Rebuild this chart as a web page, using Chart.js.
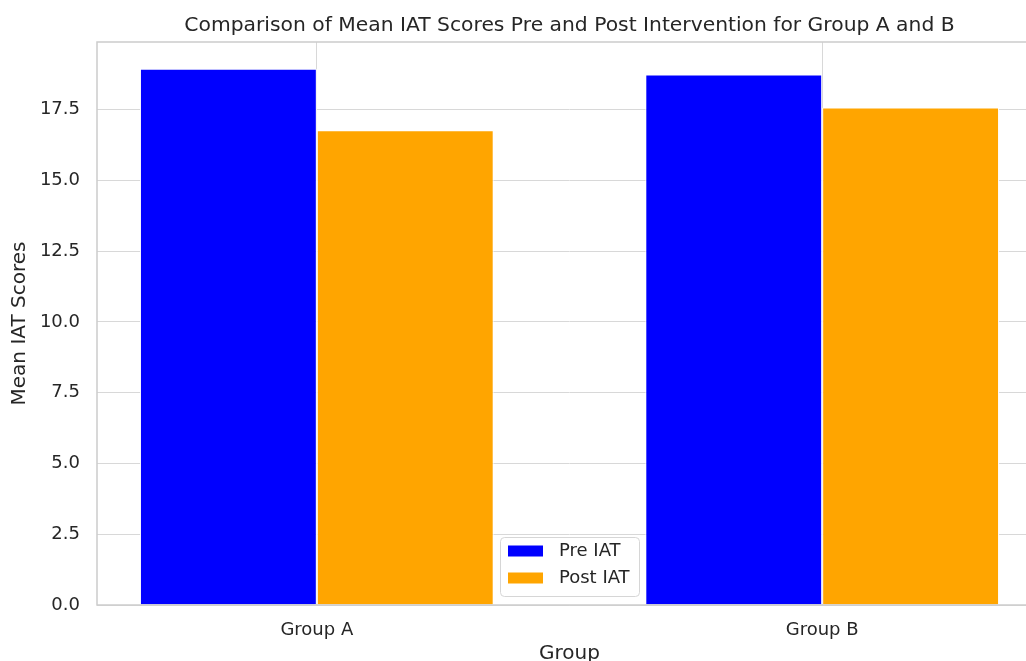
<!DOCTYPE html>
<html>
<head>
<meta charset="utf-8">
<script src="https://cdn.jsdelivr.net/npm/chart.js@4.4.1/dist/chart.umd.min.js"></script>
<style>
  html, body { margin: 0; padding: 0; background: #fff; overflow: hidden; }
  #wrap { width: 1026px; height: 661px; overflow: hidden; position: relative; }
  canvas { display: block; }
</style>
</head>
<body>
<div id="wrap"><canvas id="chart" width="1060" height="671"></canvas></div>
<script>
const categories = ["Group A", "Group B"];
const preIAT = [18.94, 18.74];
const postIAT = [16.77, 17.57];
const seriesNames = ["Pre IAT", "Post IAT"];
const yTicks = [0, 2.5, 5, 7.5, 10, 12.5, 15, 17.5];
const yTickLabels = ["0.0", "2.5", "5.0", "7.5", "10.0", "12.5", "15.0", "17.5"];

const titleText = "Comparison of Mean IAT Scores Pre and Post Intervention for Group A and B";
const textColor = "#262626";
const fontFamily = "'DejaVu Sans', sans-serif";

// same margins as matplotlib: 5% of the data span
const xMin = -0.35 - 0.085;
const xMax = 1.35 + 0.085;
const yMax = Math.max(...preIAT, ...postIAT) * 1.05;

const toPoints = (values) => values.map((v, i) => ({ x: i, y: v }));

const titlePlugin = {
  id: "plotTitle",
  afterDraw(chart) {
    const { ctx, chartArea } = chart;
    ctx.save();
    ctx.font = "20.3px " + fontFamily;
    ctx.fillStyle = textColor;
    ctx.textAlign = "center";
    ctx.textBaseline = "middle";
    ctx.fillText(titleText, (chartArea.left + chartArea.right) / 2, 26);
    ctx.restore();
  },
};

const spinePlugin = {
  id: "spines",
  afterDraw(chart) {
    const { ctx, chartArea } = chart;
    ctx.save();
    ctx.strokeStyle = "#cccccc";
    ctx.lineWidth = 1.5;
    ctx.strokeRect(chartArea.left, chartArea.top, chartArea.right - chartArea.left, chartArea.bottom - chartArea.top);
    ctx.restore();
  },
};

const legendPlugin = {
  id: "boxLegend",
  afterDraw(chart) {
    const { ctx, chartArea } = chart;
    const w = 139, h = 59;
    const x = (chartArea.left + chartArea.right) / 2 - w / 2;
    const y = chartArea.bottom - 9 - h;
    ctx.save();
    ctx.fillStyle = "rgba(255,255,255,0.8)";
    ctx.strokeStyle = "#d6d6d6";
    ctx.lineWidth = 1;
    ctx.beginPath();
    ctx.roundRect(x + 0.5, y + 0.5, w, h, 4);
    ctx.fill();
    ctx.stroke();
    ctx.font = "18px " + fontFamily;
    ctx.textBaseline = "middle";
    chart.data.datasets.forEach((ds, i) => {
      const cy = y + 14 + i * 27;
      ctx.fillStyle = ds.backgroundColor;
      ctx.fillRect(x + 8, cy - 5.5, 35, 11);
      ctx.fillStyle = textColor;
      ctx.fillText(ds.label, x + 59, cy);
    });
    ctx.restore();
  },
};

new Chart(document.getElementById("chart"), {
  type: "bar",
  data: {
    datasets: [
      {
        label: seriesNames[0],
        data: toPoints(preIAT),
        backgroundColor: "#0000ff",
        borderColor: "#ffffff",
        borderWidth: 1,
      },
      {
        label: seriesNames[1],
        data: toPoints(postIAT),
        backgroundColor: "#ffa500",
        borderColor: "#ffffff",
        borderWidth: 1,
      },
    ],
  },
  options: {
    responsive: false,
    animation: false,
    categoryPercentage: 0.7,
    barPercentage: 1.0,
    layout: { padding: { left: 0, right: 18, top: 42, bottom: 0 } },
    plugins: {
      legend: { display: false },
      title: { display: false },
      tooltip: { enabled: false },
    },
    scales: {
      x: {
        type: "linear",
        min: xMin,
        max: xMax,
        offset: false,
        afterBuildTicks: (scale) => {
          scale.ticks = categories.map((c, i) => ({ value: i }));
        },
        afterFit: (scale) => {
          scale.height = 66;
        },
        grid: { offset: false, color: "#d8d8d8", lineWidth: 1, drawTicks: false },
        border: { display: false },
        ticks: {
          padding: 15,
          color: textColor,
          font: { family: fontFamily, size: 18 },
          callback: (v) => categories[v],
        },
        title: {
          display: true,
          text: "Group",
          color: textColor,
          font: { family: fontFamily, size: 20 },
          padding: { top: 0, bottom: 5 },
        },
      },
      y: {
        min: 0,
        max: yMax,
        afterBuildTicks: (scale) => {
          scale.ticks = yTicks.map((v) => ({ value: v }));
        },
        afterFit: (scale) => {
          scale.width = 97;
        },
        grid: { color: "#d8d8d8", lineWidth: 1, drawTicks: false },
        border: { display: false },
        ticks: {
          padding: 17,
          color: textColor,
          font: { family: fontFamily, size: 18 },
          callback: (v) => yTickLabels[yTicks.indexOf(v)],
        },
        title: {
          display: true,
          text: "Mean IAT Scores",
          color: textColor,
          font: { family: fontFamily, size: 20 },
          padding: { top: 8, bottom: 0 },
        },
      },
    },
  },
  plugins: [titlePlugin, spinePlugin, legendPlugin],
});
</script>
</body>
</html>
